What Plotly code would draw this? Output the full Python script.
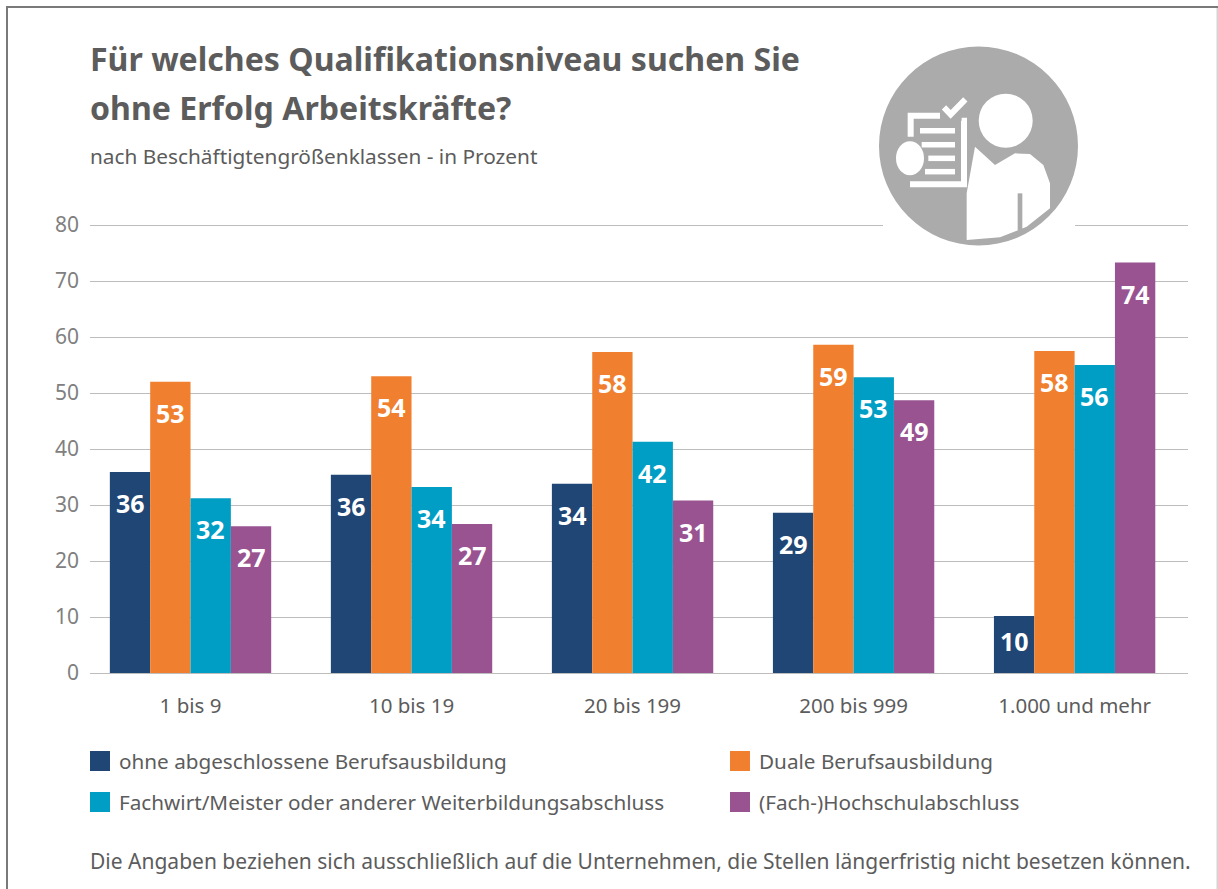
import plotly.graph_objects as go

# ---------- data ----------
categories = ["1 bis 9", "10 bis 19", "20 bis 199", "200 bis 999", "1.000 und mehr"]
series_names = [
    "ohne abgeschlossene Berufsausbildung",
    "Duale Berufsausbildung",
    "Fachwirt/Meister oder anderer Weiterbildungsabschluss",
    "(Fach-)Hochschulabschluss",
]
ohne = [35.9, 35.4, 33.8, 28.6, 10.2]
dual = [52.0, 53.0, 57.3, 58.6, 57.5]
fachwirt = [31.2, 33.2, 41.3, 52.8, 55.0]
hochschule = [26.2, 26.6, 30.8, 48.7, 73.3]
ohne_labels = [36, 36, 34, 29, 10]
dual_labels = [53, 54, 58, 59, 58]
fachwirt_labels = [32, 34, 42, 53, 56]
hochschule_labels = [27, 27, 31, 49, 74]
y_ticks = [0, 10, 20, 30, 40, 50, 60, 70, 80]

values = [ohne, dual, fachwirt, hochschule]
labels = [ohne_labels, dual_labels, fachwirt_labels, hochschule_labels]
colors = ["#1F4675", "#F08030", "#009EC5", "#985390"]

# ---------- layout constants ----------
W, H = 1218, 889
ML, MR, MT, MB = 90, 30, 219, 216
Y_TOP = (673 - 219) / 5.6
TEXT = "#5C5C5C"
FONT = "Noto Sans"


def px(x):
    return (x - ML) / (W - ML - MR)


def py(y):
    return 1 - (y - MT) / (H - MT - MB)


def rect(x0, y0, x1, y1, color):
    return dict(type="rect", xref="paper", yref="paper", x0=px(x0), x1=px(x1),
                y0=py(y0), y1=py(y1), fillcolor=color, line_width=0, layer="above")


def oval(cx, cy, rx, ry, color):
    return dict(type="circle", xref="paper", yref="paper", x0=px(cx - rx), x1=px(cx + rx),
                y0=py(cy - ry), y1=py(cy + ry), fillcolor=color, line_width=0, layer="above")


def z(zx, zy):
    """icon drawing coordinates -> page pixels"""
    return 860 + zx / 3, 30 + zy / 3


def poly(points, color="white"):
    d = "M" + " L".join(f"{px(z(a, b)[0]):.5f},{py(z(a, b)[1]):.5f}" for a, b in points) + " Z"
    return dict(type="path", xref="paper", yref="paper", path=d, fillcolor=color,
                line_width=0, layer="above")


def stroke(points, width):
    d = "M" + " L".join(f"{px(z(a, b)[0]):.5f},{py(z(a, b)[1]):.5f}" for a, b in points)
    return dict(type="path", xref="paper", yref="paper", path=d,
                line=dict(color="white", width=width), layer="above")


fig = go.Figure()
for name, vals, col in zip(series_names, values, colors):
    fig.add_bar(name=name, x=categories, y=vals, marker=dict(color=col, line_width=0),
                showlegend=False, hoverinfo="x+y+name")

annotations = []
BAR = 0.73 / 4
for j, (vals, labs) in enumerate(zip(values, labels)):
    for i, (v, lab) in enumerate(zip(vals, labs)):
        annotations.append(dict(
            x=i + (j - 1.5) * BAR, y=v, xref="x", yref="y", text=f"<b>{lab}</b>",
            showarrow=False, yshift=-31 if v > 15 else -25, yanchor="middle",
            font=dict(family=FONT, size=25, color="white")))


def note(x, y, text, size, color=TEXT):
    annotations.append(dict(xref="paper", yref="paper", x=px(x), y=py(y), text=text,
                            showarrow=False, xanchor="left", yanchor="middle",
                            borderpad=0, borderwidth=0,
                            font=dict(family=FONT, size=size, color=color)))


note(90, 58, "<b>Für welches Qualifikationsniveau suchen Sie</b>", 32.1)
note(90, 107, "<b>ohne Erfolg Arbeitskräfte?</b>", 32.1)
note(90, 156, "nach Beschäftigtengrößenklassen - in Prozent", 20.8)
note(90, 861, "Die Angaben beziehen sich ausschließlich auf die Unternehmen, die Stellen längerfristig nicht besetzen können.", 21)

legend_pos = [(90, 761), (730, 761), (90, 802), (730, 802)]
shapes = []
for (lx, ly), name, col in zip(legend_pos, series_names, colors):
    shapes.append(rect(lx, ly - 10, lx + 20, ly + 10, col))
    note(lx + 29, ly, name, 20.7)

# outer frame
frame = "#7A7A7A"
shapes += [rect(6, 6, 1218, 8, frame), rect(6, 6, 8, 889, frame), rect(1216.5, 8, 1218, 889, "#D4D4D4")]

# icon
ICON = "#ABABAB"
shapes.append(rect(883, 218, 1075, 232, "white"))
shapes.append(oval(978.5, 146, 99.5, 99.5, ICON))
shapes.append(oval(1005.7, 120.7, 27, 27, "white"))
shapes.append(poly([(320, 630), (320, 490), (345, 350), (405, 405), (465, 370), (510, 372),
                    (550, 405), (570, 460), (570, 535), (500, 590), (420, 622)]))
shapes.append(poly([(473, 490), (487, 490), (487, 600), (473, 600)], ICON))
shapes.append(stroke([(240, 257), (152, 257), (152, 320)], 6))
shapes.append(stroke([(305, 272), (312, 272), (312, 463), (150, 463)], 6))
for a, b, c in [(180, 302, 285), (185, 344, 285), (205, 385, 285), (195, 425, 285)]:
    shapes.append(stroke([(a, b), (c, b)], 5.5))
shapes.append(oval(*z(150, 385), 14, 17, "white"))
shapes.append(stroke([(252, 232), (272, 253), (316, 208)], 6))

fig.update_layout(
    width=W, height=H, autosize=False, barmode="group", bargap=0.27, bargroupgap=0,
    margin=dict(l=ML, r=MR, t=MT, b=MB, pad=0),
    plot_bgcolor="white", paper_bgcolor="white",
    font=dict(family=FONT, color=TEXT),
    showlegend=False,
    annotations=annotations,
    shapes=shapes,
    xaxis=dict(type="category", categoryorder="array", categoryarray=categories,
               range=[-0.4548, 4.513], showgrid=False, zeroline=False, showline=False,
               ticks="", ticklabelstandoff=18, tickfont=dict(family=FONT, size=20.5, color=TEXT)),
    yaxis=dict(range=[0, Y_TOP], tickmode="array", tickvals=y_ticks, showgrid=True,
               gridcolor="#BDBDBD", gridwidth=1, zeroline=True, zerolinecolor="#BDBDBD",
               zerolinewidth=1, showline=False, ticks="", ticklabelstandoff=10,
               tickfont=dict(family=FONT, size=21, color="#808080")),
)

fig.write_html("out.html", config=dict(displayModeBar=False),
               post_script="document.body.style.margin='0';document.body.style.overflow='hidden';")
